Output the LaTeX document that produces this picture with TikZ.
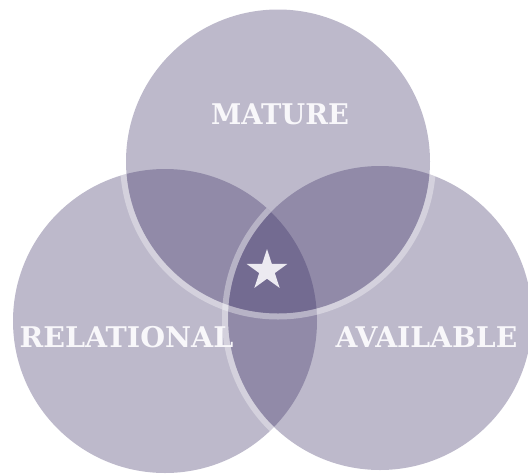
\documentclass[tikz,border=0pt]{standalone}
\usepackage{fontspec}
\setmainfont{DejaVu Serif}
\usetikzlibrary{shapes.geometric}
\definecolor{vpurple}{RGB}{57,45,99}
\definecolor{starc}{RGB}{236,234,241}
\definecolor{labc}{RGB}{248,247,250}
\tikzset{
  venn/.style={fill=vpurple, fill opacity=0.3333},
  ring/.style={fill=white, fill opacity=0.35, even odd rule},
  lab/.style={text=labc, font=\fontsize{28.5}{28.5}\selectfont\bfseries, inner sep=0pt, anchor=base},
}
\begin{document}
\begin{tikzpicture}[x=1pt,y=-1pt]
\useasboundingbox (0,0) rectangle (528,475);
\coordinate (ct) at (278,161.5);
\coordinate (cl) at (165,321);
\coordinate (cr) at (380,318);
\def\R{152}
\def\Rr{158}
% fills
\fill[venn] (cl) circle[radius=\R];
\fill[venn] (cr) circle[radius=\R];
\fill[venn] (ct) circle[radius=\R];
% ring of top circle over left circle
\begin{scope}
  \clip (cl) circle[radius=\R];
  \fill[ring] (ct) circle[radius=\Rr] (ct) circle[radius=\R];
\end{scope}
% ring of top circle over right circle, outside left circle
\begin{scope}[even odd rule]
  \clip (cr) circle[radius=\R];
  \clip (-50,-50) rectangle (600,550) (cl) circle[radius=\R];
  \fill[ring] (ct) circle[radius=\Rr] (ct) circle[radius=\R];
\end{scope}
% ring of right circle over left circle
\begin{scope}
  \clip (cl) circle[radius=\R];
  \fill[ring] (cr) circle[radius=\Rr] (cr) circle[radius=\R];
\end{scope}
% star
\node[star, star points=5, star point ratio=2.618, minimum size=43pt, inner sep=0pt, fill=starc] (star) at (267,270.5) {};
% labels
\node[lab, xscale=0.96] (mature) at (280,124.5) {MATURE};
\node[lab] (relational) at (126.5,347.5) {RELATIONAL};
\node[lab, xscale=0.99] (available) at (426.5,347.5) {AVAILABLE};
\end{tikzpicture}
\end{document}
